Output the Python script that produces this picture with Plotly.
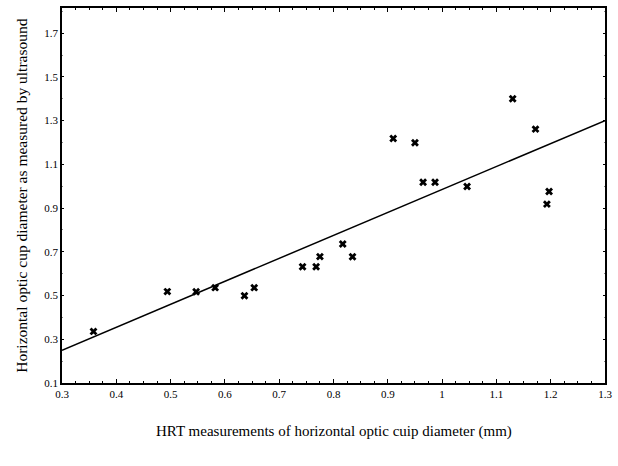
import plotly.graph_objects as go

# Data
hrt_x = [0.358, 0.494, 0.547, 0.582, 0.636, 0.654, 0.743, 0.768, 0.775, 0.817,
         0.835, 0.910, 0.950, 0.965, 0.987, 1.046, 1.130, 1.172, 1.193, 1.197]
us_y = [0.336, 0.518, 0.517, 0.536, 0.499, 0.536, 0.632, 0.632, 0.678, 0.736,
        0.677, 1.218, 1.199, 1.018, 1.018, 0.999, 1.400, 1.261, 0.918, 0.976]
fit_x = [0.3, 1.3]
fit_y = [0.25, 1.30]

x_tickvals = [0.3, 0.4, 0.5, 0.6, 0.7, 0.8, 0.9, 1.0, 1.1, 1.2, 1.3]
x_ticktext = ["0.3", "0.4", "0.5", "0.6", "0.7", "0.8", "0.9", "1", "1.1", "1.2", "1.3"]
y_tickvals = [0.1, 0.3, 0.5, 0.7, 0.9, 1.1, 1.3, 1.5, 1.7]
y_ticktext = ["0.1", "0.3", "0.5", "0.7", "0.9", "1.1", "1.3", "1.5", "1.7"]

x_title = "HRT measurements of horizontal optic cuip diameter (mm)"
y_title = "Horizontal optic cup diameter as measured by ultrasound"

font_family = "Liberation Serif, Times New Roman, serif"

fig = go.Figure()
fig.add_trace(go.Scatter(x=fit_x, y=fit_y, mode="lines",
                         line=dict(color="black", width=1.5), showlegend=False,
                         hoverinfo="skip"))
fig.add_trace(go.Scatter(x=hrt_x, y=us_y, mode="markers",
                         marker=dict(symbol="x", size=7, color="black",
                                     line=dict(width=0)),
                         showlegend=False))

fig.update_layout(
    width=618, height=466,
    margin=dict(l=62, r=13, t=6, b=83),
    paper_bgcolor="white", plot_bgcolor="white",
    font=dict(family=font_family, color="black", size=11),
    xaxis=dict(range=[0.3, 1.3], tickvals=x_tickvals, ticktext=x_ticktext,
               ticks="inside", ticklen=4, tickcolor="black", tickwidth=1,
               minor=dict(dtick=0.025, ticks="inside", ticklen=2, tickcolor="black"),
               showline=True, linecolor="black", linewidth=1.5, mirror="ticks",
               showgrid=False, zeroline=False, tickfont=dict(size=11)),
    yaxis=dict(range=[0.1, 1.815], tickvals=y_tickvals, ticktext=y_ticktext,
               ticks="inside", ticklen=2, tickcolor="black", tickwidth=1,
               minor=dict(dtick=0.1, tick0=0.1, ticks="inside", ticklen=1, tickcolor="#888"),
               showline=True, linecolor="black", linewidth=1.5, mirror="ticks",
               showgrid=False, zeroline=False, tickfont=dict(size=11)),
    annotations=[
        dict(text=x_title, xref="paper", yref="paper", x=0.5, y=-0.13,
             xanchor="center", yanchor="middle", showarrow=False,
             font=dict(size=15, family=font_family)),
        dict(text=y_title, xref="paper", yref="paper", x=-0.075, y=0.5,
             xanchor="center", yanchor="middle", textangle=-90, showarrow=False,
             font=dict(size=15.5, family=font_family)),
    ],
)

fig.write_html("out.html")
